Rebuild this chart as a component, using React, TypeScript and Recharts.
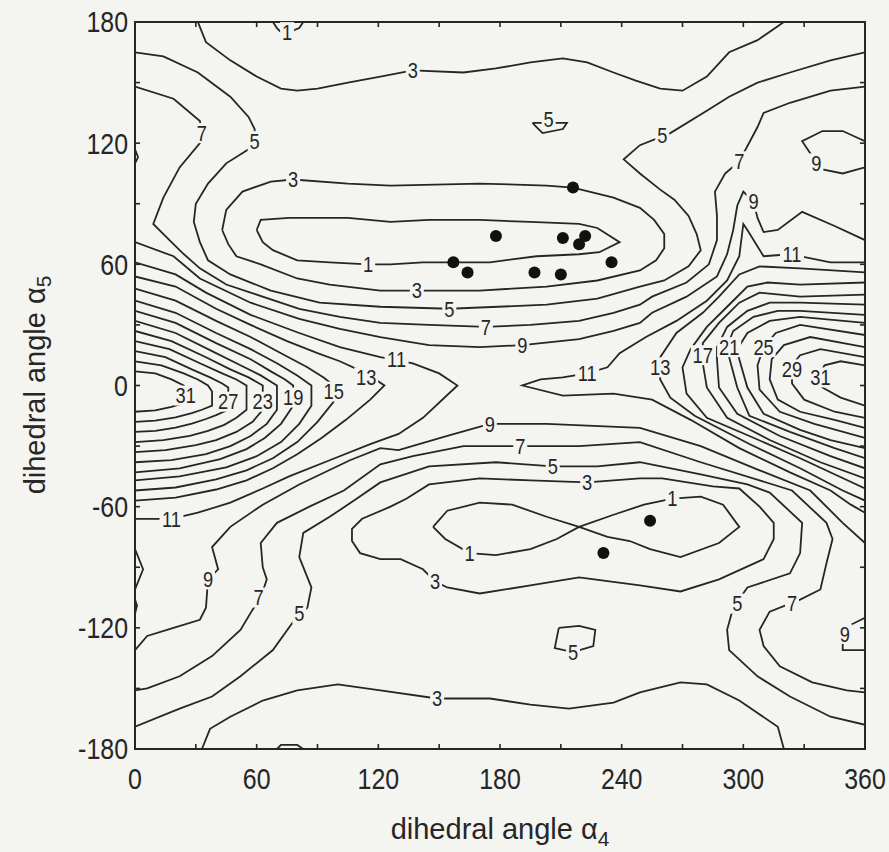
import React from "react";
import {
  ReferenceArea,
  ReferenceLine,
  Scatter,
  ScatterChart,
  XAxis,
  YAxis,
} from "recharts";

const FONT = '"Liberation Sans", Arial, Helvetica, sans-serif';
const INK = "#262626";
const PAPER = "#f4f4f1";

// axes (degrees)
const xTicks = [0, 30, 60, 90, 120, 150, 180, 210, 240, 270, 300, 330, 360];
const yTicks = [-180, -150, -120, -90, -60, -30, 0, 30, 60, 90, 120, 150, 180];

// contour lines, [alpha4, alpha5] in degrees
const c1Top = [[68, 180], [70, 177], [72, 175], [76, 175], [81, 177], [83, 180]];
const c1Bottom = [[70, -180], [72, -178], [80, -178], [83, -180]];
const c1Upper = [[60, 77], [62, 82], [76, 83], [105, 83], [126, 81], [145, 82], [170, 82], [195, 81], [219, 80], [228, 78], [239, 71], [229, 66], [219, 65], [198, 64], [175, 61], [157, 61], [142, 61], [126, 60], [115, 60], [96, 61], [80, 62], [68, 67], [63, 71], [60, 77]];
const c1Lower = [[147, -70], [154, -62], [170, -58], [186, -59], [203, -65], [219, -70], [233, -75], [244, -77], [254, -81], [269, -85], [288, -78], [298, -70], [290, -59], [279, -55], [265, -56], [251, -59], [236, -64], [219, -70], [208, -76], [195, -81], [178, -84], [165, -83], [153, -76], [147, -70]];

const c3Top = [[31, 180], [35, 170], [47, 161], [60, 153], [72, 147], [80, 146], [90, 147], [105, 150], [121, 153], [137, 156], [162, 155], [178, 157], [195, 160], [211, 162], [223, 160], [236, 155], [247, 151], [259, 147], [270, 146], [282, 153], [293, 165], [307, 171], [320, 180]];
const c3Bottom = [[33, -180], [37, -170], [47, -164], [63, -156], [80, -151], [100, -148], [121, -151], [149, -155], [175, -155], [195, -158], [214, -160], [236, -157], [249, -152], [269, -147], [282, -148], [298, -156], [317, -169], [320, -180]];
const c3Upper = [[43, 77], [45, 87], [53, 96], [67, 101], [78, 102], [105, 100], [126, 99], [170, 100], [203, 99], [216, 98], [236, 93], [249, 88], [256, 82], [261, 75], [261, 68], [257, 62], [249, 57], [228, 52], [203, 49], [170, 47], [139, 47], [121, 47], [96, 50], [80, 53], [62, 60], [50, 64], [46, 70], [43, 77]];
const c3Lower = [[249, -46], [223, -48], [195, -47], [170, -46], [145, -49], [134, -56], [126, -60], [112, -66], [107, -71], [107, -77], [111, -83], [121, -86], [131, -86], [142, -91], [148, -97], [154, -100], [170, -103], [195, -99], [219, -95], [249, -99], [269, -102], [288, -96], [310, -86], [315, -76], [315, -68], [308, -60], [298, -51], [285, -50], [260, -46], [249, -46]];

const c5Upper = [[0, 165], [14, 163], [31, 155], [47, 143], [56, 133], [59, 127], [59, 121], [56, 117], [45, 110], [36, 100], [30, 90], [29, 81], [32, 71], [36, 62], [47, 55], [67, 47], [91, 41], [121, 39], [155, 38], [203, 40], [228, 43], [249, 49], [261, 52], [273, 59], [279, 67], [277, 75], [273, 84], [266, 92], [259, 97], [249, 105], [241, 112], [249, 119], [264, 125], [282, 136], [293, 143], [307, 150], [323, 155], [343, 161], [360, 165]];
const c5Lower = [[0, -169], [22, -160], [38, -154], [52, -144], [68, -131], [78, -117], [85, -110], [87, -100], [81, -85], [83, -73], [96, -65], [108, -57], [121, -48], [145, -40], [178, -38], [206, -40], [228, -40], [249, -38], [279, -44], [302, -49], [313, -53], [329, -68], [328, -83], [323, -93], [302, -100], [295, -110], [292, -121], [293, -131], [307, -144], [323, -154], [343, -164], [360, -168]];
const c5IslandTop = [[196, 130], [199, 127], [201, 125], [211, 127], [213, 130], [196, 130]];
const c5IslandBottom = [[209, -120], [219, -119], [227, -121], [226, -129], [216, -132], [207, -130], [209, -120]];

const c7Upper = [[0, 148], [19, 142], [32, 131], [33, 125], [32, 120], [22, 108], [14, 93], [9, 80], [17, 72], [23, 66], [32, 58], [45, 50], [57, 46], [81, 38], [101, 34], [121, 31], [145, 30], [173, 29], [195, 30], [219, 32], [236, 36], [249, 40], [255, 44], [272, 51], [283, 60], [287, 72], [287, 84], [286, 96], [291, 105], [298, 111], [307, 128], [310, 135], [323, 140], [343, 146], [360, 148]];
const c7Lower = [[0, -151], [6, -150], [22, -144], [38, -134], [52, -121], [58, -111], [62, -105], [65, -96], [63, -90], [62, -78], [70, -68], [86, -60], [103, -52], [121, -39], [137, -35], [162, -30], [190, -30], [219, -30], [249, -28], [279, -38], [308, -47], [324, -52], [341, -68], [344, -76], [341, -88], [338, -101], [328, -106], [313, -112], [308, -121], [310, -129], [318, -139], [334, -147], [351, -151], [360, -152]];

const c9Upper = [[0, 71], [19, 64], [32, 53], [57, 41], [81, 33], [101, 28], [121, 24], [145, 20], [170, 19], [191, 20], [219, 23], [236, 27], [249, 31], [255, 36], [272, 44], [287, 54], [292, 65], [295, 77], [297, 89], [300, 96], [305, 91], [307, 83], [310, 76], [317, 77], [329, 86], [345, 79], [360, 72]];
const c9Lower = [[360, -78], [349, -68], [333, -52], [308, -42], [279, -30], [249, -21], [203, -19], [175, -19], [154, -25], [130, -32], [121, -31], [106, -37], [81, -49], [63, -59], [47, -70], [38, -80], [41, -91], [36, -96], [35, -110], [32, -116], [19, -120], [6, -124], [0, -131]];
const c9EdgeTopRight = [[360, 121], [349, 126], [339, 126], [329, 121], [333, 115], [336, 110], [339, 107], [349, 105], [360, 108]];
const c9EdgeTopLeft = [[0, 117], [1.5, 113], [0, 110]];
const c9EdgeLowRight = [[360, -115], [352, -119], [349, -124], [349, -131], [360, -131]];
const c9EdgeLowLeftA = [[0, -81], [4, -91], [0, -101]];
const c9EdgeLowLeftB = [[0, -106], [1, -109], [0, -113]];

const c11Left = [[0, 61], [20, 55], [35, 46], [57, 35], [81, 26], [101, 19], [121, 14], [137, 11], [150, 6], [159, 0], [142, -16], [130, -24], [116, -29], [96, -37], [76, -45], [63, -51], [47, -58], [31, -63], [18, -66], [0, -66]];
const c11Right = [[360, 61], [343, 61], [323, 65], [310, 64], [302, 77], [300, 80], [298, 64], [292, 52], [282, 42], [267, 32], [252, 24], [239, 16], [233, 9], [223, 6], [211, 4], [200, 3], [191, 0], [211, -5], [236, -4], [255, -7], [274, -17], [298, -31], [323, -43], [343, -52], [353, -59], [360, -63]];

const c13Left = [[0, 54], [20, 49], [40, 38], [57, 30], [75, 22], [90, 16], [101, 12], [114, 6], [123, 0], [116, -7], [104, -17], [92, -26], [80, -34], [68, -41], [55, -47], [40, -51.5], [20, -55.5], [0, -57]];
const c13Right = [[360, 56], [328, 58], [308, 59], [298, 55], [288, 44], [280, 36], [267, 26], [259, 14], [259, 3], [264, -6], [276, -15], [303, -29], [328, -41], [349, -52], [360, -57]];
const c15Left = [[0, 48], [20, 42], [40, 32], [57, 24], [72, 16], [85, 9], [93, 4], [98, 0], [98, -8], [90, -18], [80, -28], [68, -36], [55, -42], [40, -46.5], [20, -50.5], [0, -52]];
const c15Right = [[360, 51], [328, 50], [312, 51], [302, 49], [292, 39], [282, 29], [274, 18], [270, 9], [272, -4], [282, -16], [303, -25], [328, -36], [360, -51]];
const c17Left = [[0, 42], [20, 36], [40, 26], [57, 18], [70, 11], [80, 5], [87, 0], [87, -10], [81, -19], [72, -28], [60, -35], [45, -40.5], [22, -45], [0, -47]];
const c17Right = [[360, 45], [328, 44], [308, 46], [298, 41], [288, 31], [280, 21], [280, 11], [282, -1], [292, -16], [313, -27], [338, -38], [360, -46]];
const c19Left = [[0, 37], [20, 31], [40, 21], [57, 13], [67, 7], [74, 3], [78, 0], [78, -10], [72, -19], [64, -26], [55, -31.5], [42, -36.5], [22, -41], [0, -43]];
const c19Right = [[360, 40], [328, 41], [313, 41], [302, 37], [292, 29], [287, 19], [287, 13], [288, -1], [297, -14], [318, -25], [343, -35], [360, -41]];
const c21Left = [[0, 32], [20, 26], [38, 17], [52, 10], [62, 5], [70, 0], [70, -12], [65, -19], [57, -25], [47, -30], [35, -34], [18, -37], [0, -38]];
const c21Right = [[360, 35], [328, 37], [317, 37], [305, 34], [295, 27], [293, 22], [293, 14], [297, -1], [303, -15], [323, -23], [345, -31], [360, -36]];
const c23Left = [[0, 27], [18, 22], [35, 14], [47, 8], [56, 4], [63, 0], [63, -12], [58, -18], [50, -23], [40, -27], [30, -29.5], [15, -32], [0, -33]];
const c23Right = [[360, 31], [328, 34], [313, 32], [302, 26], [297, 18], [298, 13], [302, -1], [310, -14], [328, -22], [343, -27], [360, -31]];
const c25Left = [[0, 22], [17, 18], [32, 11], [43, 6], [50, 3], [55, 0], [55, -12], [50, -16], [44, -19.5], [36, -22.5], [27, -25], [14, -27], [0, -28]];
const c25Right = [[360, 25], [328, 30], [316, 26], [310, 19], [307, 10], [308, -2], [318, -13], [335, -19], [360, -26]];
const c27Left = [[0, 17], [15, 14], [28, 8], [37, 4], [43, 1], [46, -1], [46, -12], [40, -14.7], [35, -16.6], [28, -18.9], [20, -20.9], [10, -22.5], [0, -23]];
const c27Right = [[360, 19], [333, 24], [320, 20], [314, 13], [313, 3], [317, -7], [328, -13], [345, -17], [360, -21]];
const c29Left = [[0, 12], [13, 10], [24, 6], [31, 3], [36, 0], [38, -3], [38, -10], [33, -12], [28, -13.7], [20, -15.8], [10, -17.4], [0, -18]];
const c29Right = [[360, 14], [338, 18], [328, 15], [324, 10], [324, 1], [330, -7], [345, -13], [360, -16]];
const c31Left = [[0, 7], [10, 6], [18, 3], [24, 0], [26, -3], [26, -8], [22, -9.4], [18, -10.6], [10, -12.3], [0, -13]];
const c31Right = [[360, 10], [348, 12], [340, 10], [338, 6], [339, -1], [348, -6], [360, -10]];

// contour level labels
const levelLabels = [
  { x: 75, y: 175, t: "1" }, { x: 115, y: 60, t: "1" }, { x: 165, y: -83, t: "1" }, { x: 265, y: -56, t: "1" },
  { x: 137, y: 156, t: "3" }, { x: 78, y: 102, t: "3" }, { x: 139, y: 47, t: "3" }, { x: 223, y: -48, t: "3" }, { x: 148, y: -97, t: "3" }, { x: 149, y: -155, t: "3" },
  { x: 59, y: 121, t: "5" }, { x: 155, y: 38, t: "5" }, { x: 204, y: 132, t: "5" }, { x: 260, y: 124, t: "5" }, { x: 206, y: -40, t: "5" }, { x: 81, y: -113, t: "5" }, { x: 297, y: -108, t: "5" }, { x: 216, y: -132, t: "5" },
  { x: 33, y: 125, t: "7" }, { x: 173, y: 29, t: "7" }, { x: 298, y: 111, t: "7" }, { x: 190, y: -30, t: "7" }, { x: 61, y: -105, t: "7" }, { x: 324, y: -108, t: "7" },
  { x: 191, y: 20, t: "9" }, { x: 305, y: 91, t: "9" }, { x: 336, y: 110, t: "9" }, { x: 175, y: -19, t: "9" }, { x: 36, y: -96, t: "9" }, { x: 350, y: -123, t: "9" },
  { x: 129, y: 13, t: "11" }, { x: 223, y: 6, t: "11" }, { x: 324, y: 65, t: "11" }, { x: 18, y: -66, t: "11" },
  { x: 114, y: 4, t: "13" }, { x: 259, y: 9, t: "13" },
  { x: 98, y: -3, t: "15" }, { x: 280, y: 15, t: "17" }, { x: 78, y: -6, t: "19" }, { x: 293, y: 19, t: "21" },
  { x: 63, y: -8, t: "23" }, { x: 310, y: 19, t: "25" }, { x: 46, y: -8, t: "27" }, { x: 324, y: 8, t: "29" },
  { x: 25, y: -5, t: "31" }, { x: 338, y: 4, t: "31" },
];

// conformations marked with dots
const dots = [[216, 98], [178, 74], [211, 73], [219, 70], [222, 74], [157, 61], [164, 56], [197, 56], [210, 55], [235, 61], [254, -67], [231, -83]];

const contours = [
  c1Top, c1Bottom, c1Upper, c1Lower,
  c3Top, c3Bottom, c3Upper, c3Lower,
  c5Upper, c5Lower, c5IslandTop, c5IslandBottom,
  c7Upper, c7Lower,
  c9Upper, c9Lower, c9EdgeTopRight, c9EdgeTopLeft, c9EdgeLowRight, c9EdgeLowLeftA, c9EdgeLowLeftB,
  c11Left, c11Right, c13Left, c13Right, c15Left, c15Right, c17Left, c17Right,
  c19Left, c19Right, c21Left, c21Right, c23Left, c23Right, c25Left, c25Right,
  c27Left, c27Right, c29Left, c29Right, c31Left, c31Right,
];

const toPts = (p: number[][]) => p.map(([x, y]) => ({ x, y }));
const TICK = 2.5; // inward tick length, degrees

const NoMark = () => <g />;

function LevelLabel(props: any) {
  const { cx, cy, payload } = props;
  const w = payload.t.length * 10 + 4;
  return (
    <g>
      <rect x={cx - w / 2} y={cy - 10} width={w} height={20} fill={PAPER} />
      <text
        transform={`translate(${cx},${cy}) scale(0.85,1)`}
        textAnchor="middle"
        dy="0.36em"
        fontSize={21.5}
        fontFamily={FONT}
        fill={INK}
      >
        {payload.t}
      </text>
    </g>
  );
}

function Dot(props: any) {
  return <circle cx={props.cx} cy={props.cy} r={6} fill="#111" />;
}

function XTick({ x, y, payload }: any) {
  if (payload.value % 60 !== 0) return <g />;
  return (
    <text
      transform={`translate(${x},${y + 40}) scale(0.86,1)`}
      textAnchor="middle"
      fontSize={29}
      fontFamily={FONT}
      fill={INK}
    >
      {payload.value}
    </text>
  );
}

function YTick({ x, y, payload }: any) {
  if (payload.value % 60 !== 0) return <g />;
  return (
    <text
      transform={`translate(${x - 7},${y}) scale(0.86,1)`}
      textAnchor="end"
      dy="0.36em"
      fontSize={29}
      fontFamily={FONT}
      fill={INK}
    >
      {payload.value}
    </text>
  );
}

export default function App() {
  const inner = xTicks.slice(1, -1);
  const innerY = yTicks.slice(1, -1);
  return (
    <div
      style={{
        position: "absolute",
        left: 0,
        top: 0,
        width: 889,
        height: 852,
        background: PAPER,
        fontFamily: FONT,
        color: INK,
      }}
    >
      <ScatterChart
        width={889}
        height={852}
        margin={{ top: 22, right: 24, bottom: 0, left: 0 }}
      >
        <XAxis
          type="number"
          dataKey="x"
          domain={[0, 360]}
          ticks={xTicks}
          interval={0}
          height={103}
          axisLine={false}
          tickLine={false}
          tickSize={0}
          tickMargin={0}
          tick={XTick}
          allowDataOverflow
        />
        <YAxis
          type="number"
          dataKey="y"
          domain={[-180, 180]}
          ticks={yTicks}
          interval={0}
          width={135}
          axisLine={false}
          tickLine={false}
          tickSize={0}
          tickMargin={0}
          tick={YTick}
          allowDataOverflow
        />
        <ReferenceArea
          x1={0}
          x2={360}
          y1={-180}
          y2={180}
          fill="none"
          stroke={INK}
          strokeWidth={2}
        />
        {inner.map((v) => (
          <ReferenceLine key={"b" + v} segment={[{ x: v, y: -180 }, { x: v, y: -180 + TICK }]} stroke={INK} strokeWidth={1.6} />
        ))}
        {inner.map((v) => (
          <ReferenceLine key={"t" + v} segment={[{ x: v, y: 180 }, { x: v, y: 180 - TICK }]} stroke={INK} strokeWidth={1.6} />
        ))}
        {innerY.map((v) => (
          <ReferenceLine key={"l" + v} segment={[{ x: 0, y: v }, { x: TICK, y: v }]} stroke={INK} strokeWidth={1.6} />
        ))}
        {innerY.map((v) => (
          <ReferenceLine key={"r" + v} segment={[{ x: 360, y: v }, { x: 360 - TICK, y: v }]} stroke={INK} strokeWidth={1.6} />
        ))}
        {contours.map((c, i) => (
          <Scatter
            key={"c" + i}
            data={toPts(c)}
            line={{ stroke: INK, strokeWidth: 1.8 }}
            shape={NoMark}
            isAnimationActive={false}
          />
        ))}
        <Scatter data={levelLabels} shape={LevelLabel} isAnimationActive={false} />
        <Scatter data={toPts(dots)} shape={Dot} isAnimationActive={false} />
      </ScatterChart>

      <div
        style={{
          position: "absolute",
          left: 500,
          top: 815,
          transform: "translateX(-50%)",
          fontSize: 29,
          lineHeight: 1,
          whiteSpace: "nowrap",
        }}
      >
        dihedral angle α<sub style={{ fontSize: "0.72em" }}>4</sub>
      </div>
      <div
        style={{
          position: "absolute",
          left: 38,
          top: 385,
          transform: "translate(-50%, -50%) rotate(-90deg)",
          fontSize: 29,
          lineHeight: 1,
          whiteSpace: "nowrap",
        }}
      >
        dihedral angle α<sub style={{ fontSize: "0.72em" }}>5</sub>
      </div>
    </div>
  );
}
